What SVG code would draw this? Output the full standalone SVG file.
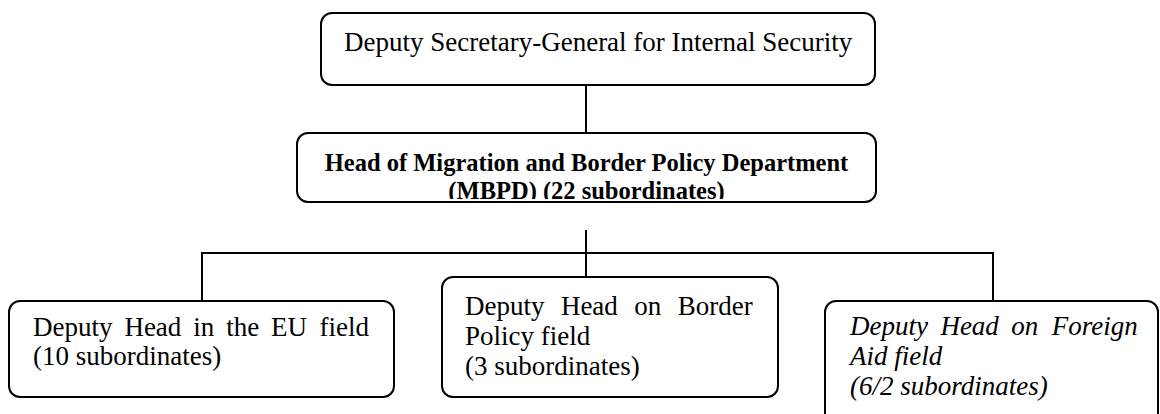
<svg xmlns="http://www.w3.org/2000/svg" width="1160" height="414" viewBox="0 0 1160 414">
<style>
.box{fill:#fff;stroke:#000;stroke-width:2}
.ln{fill:none;stroke:#000;stroke-width:2}
.t{font-family:"Liberation Serif","Times New Roman",serif;font-size:27px;fill:#000}
.b{font-weight:bold;font-size:24.5px}
.i{font-style:italic}
</style>
<defs>
<clipPath id="midclip"><rect x="297" y="133" width="579" height="66"/></clipPath>
</defs>
<g id="connectors">
<line class="ln" x1="586" y1="85" x2="586" y2="133"/>
<line class="ln" x1="586" y1="230" x2="586" y2="277"/>
<polyline class="ln" points="202,301 202,253 993,253 993,301"/>
</g>
<g id="top">
<rect class="box" x="321" y="13" width="554" height="72" rx="11"/>
<text class="t" x="344" y="51">Deputy Secretary-General for Internal Security</text>
</g>
<g id="mbpd">
<rect class="box" x="297" y="133" width="579" height="69" rx="11"/>
<g clip-path="url(#midclip)">
<text class="t b" x="586.5" y="171" text-anchor="middle">Head of Migration and Border Policy Department</text>
<text class="t b" x="586.5" y="199" text-anchor="middle">(MBPD) (22 subordinates)</text>
</g>
</g>
<g id="eu">
<rect class="box" x="9" y="301" width="385" height="96" rx="11"/>
<text class="t" y="336"><tspan x="33">Deputy</tspan><tspan x="124.4">Head</tspan><tspan x="193.3">in</tspan><tspan x="226.2">the</tspan><tspan x="271.1">EU</tspan><tspan x="369" text-anchor="end">field</tspan></text>
<text class="t" x="33" y="365">(10 subordinates)</text>
</g>
<g id="border">
<rect class="box" x="442" y="277" width="336" height="120" rx="11"/>
<text class="t" y="315"><tspan x="465">Deputy</tspan><tspan x="560.9">Head</tspan><tspan x="634.3">on</tspan><tspan x="752.7" text-anchor="end">Border</tspan></text>
<text class="t" x="465" y="345">Policy field</text>
<text class="t" x="465" y="375">(3 subordinates)</text>
</g>
<g id="aid">
<rect class="box" x="825" y="301" width="333" height="130" rx="11"/>
<text class="t i" y="335"><tspan x="850">Deputy</tspan><tspan x="940.4">Head</tspan><tspan x="1011.3">on</tspan><tspan x="1137.7" text-anchor="end">Foreign</tspan></text>
<text class="t i" x="850" y="365">Aid field</text>
<text class="t i" x="850" y="395">(6/2 subordinates)</text>
</g>
</svg>
